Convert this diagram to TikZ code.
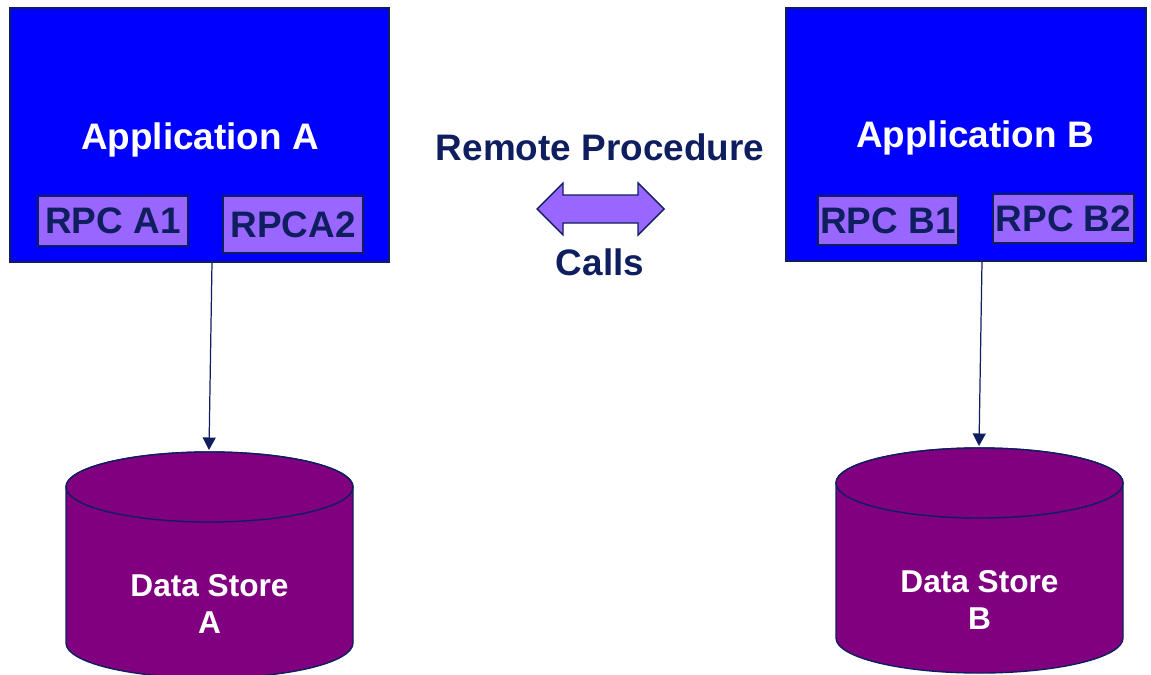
\documentclass[tikz,border=0pt]{standalone}
\usepackage{fontspec}
\setmainfont{Liberation Sans}
\usetikzlibrary{fit,arrows.meta}
\definecolor{navy}{RGB}{15,30,95}
\definecolor{appblue}{RGB}{0,0,255}
\definecolor{lav}{RGB}{153,102,255}
\definecolor{store}{RGB}{128,0,128}
\begin{document}
\begin{tikzpicture}[x=0.02cm,y=0.02cm,
  appbox/.style={draw=navy,line width=0.8pt,fill=appblue,inner sep=0pt},
  rpcbox/.style={draw=navy,line width=0.8pt,fill=lav,inner sep=0pt},
  rpctext/.style={text=navy,font=\fontsize{21}{25}\selectfont\bfseries},
  apptext/.style={text=white,font=\fontsize{21}{25}\selectfont\bfseries},
  midtext/.style={text=navy,font=\fontsize{21}{25}\selectfont\bfseries},
  storetext/.style={text=white,align=center,font=\fontsize{18}{21.5}\selectfont\bfseries},
  cyl/.style={draw=navy,line width=0.8pt,fill=store},
  conn/.style={draw=navy,line width=0.7pt,-{Triangle[length=0.25cm,width=0.26cm]}}]
\useasboundingbox (0,0) rectangle (1151,674);
% application boxes
\node[appbox,fit={(10,666)(389,412)}] (appA) {};
\node[appbox,fit={(786,666)(1146,413)}] (appB) {};
\node[apptext] (appAt) at (200,534) {Application A};
\node[apptext] (appBt) at (975,536) {Application B};
% RPC boxes
\node[rpcbox,fit={(38,478)(188,428)}] (rA1) {};
\node[rpctext] at (rA1.center) {RPC A1};
\node[rpcbox,fit={(223,478)(363,421)}] (rA2) {};
\node[rpctext] at (rA2.center) {RPCA2};
\node[rpcbox,fit={(818,478)(958,429)}] (rB1) {};
\node[rpctext] at (rB1.center) {RPC B1};
\node[rpcbox,fit={(993,480)(1134,431)}] (rB2) {};
\node[rpctext] at (rB2.center) {RPC B2};
% middle
\node[midtext] (rp) at (600,527) {Remote Procedure};
\node[midtext] (calls) at (600,412) {Calls};
\draw[draw=navy,line width=0.8pt,fill=lav] (537,465) -- (563,491) -- (563,479) -- (638,479) -- (638,491) -- (664,465) -- (638,439) -- (638,451) -- (563,451) -- (563,439) -- cycle;
% cylinders
\draw[cyl] (66,187) -- (66,31) arc[start angle=180,end angle=360,x radius=143.5,y radius=35] -- (353,187) arc[start angle=0,end angle=180,x radius=143.5,y radius=35] -- cycle;
\draw[cyl] (209.5,187) ellipse[x radius=143.5,y radius=35];
\draw[cyl] (836,191) -- (836,36) arc[start angle=180,end angle=360,x radius=143.5,y radius=35] -- (1123,191) arc[start angle=0,end angle=180,x radius=143.5,y radius=35] -- cycle;
\draw[cyl] (979.5,191) ellipse[x radius=143.5,y radius=35];
\node[storetext] (dsA) at (209.5,70) {Data Store\\A};
\node[storetext] (dsB) at (979.5,74) {Data Store\\B};
\coordinate (dsAtop) at (209,224);
\coordinate (dsBtop) at (979,228);
\coordinate (aOut) at (212,412);
\coordinate (bOut) at (982,413);
% connectors
\draw[conn] (aOut) -- (dsAtop);
\draw[conn] (bOut) -- (dsBtop);
\end{tikzpicture}
\end{document}
